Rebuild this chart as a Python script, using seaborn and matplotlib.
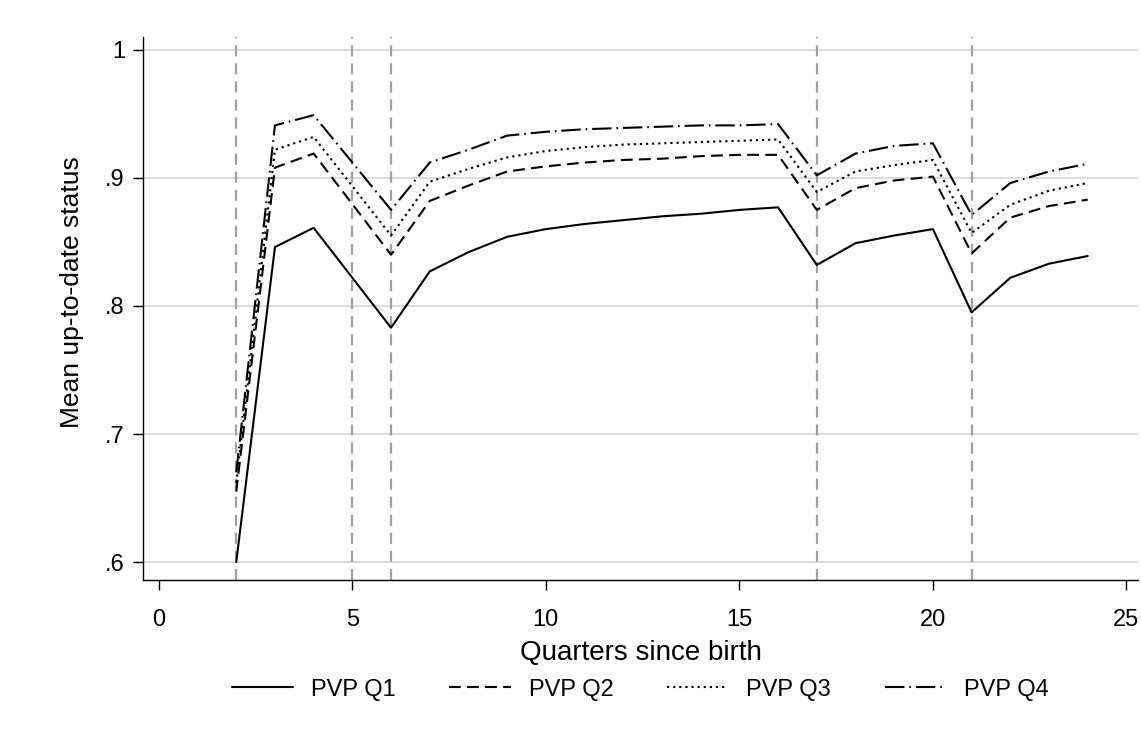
import matplotlib
matplotlib.use("Agg")
import matplotlib.pyplot as plt
import seaborn as sns
import pandas as pd
from matplotlib.lines import Line2D

quarters = [2, 3, 4, 6, 7, 8, 9, 10, 11, 12, 13, 14, 15, 16, 17, 18, 19, 20, 21, 22, 23, 24]
q1 = [0.600, 0.846, 0.861, 0.783, 0.827, 0.842, 0.854, 0.860, 0.864, 0.867, 0.870, 0.872,
      0.875, 0.877, 0.832, 0.849, 0.855, 0.860, 0.795, 0.822, 0.833, 0.839]
q2 = [0.655, 0.908, 0.919, 0.840, 0.882, 0.894, 0.905, 0.909, 0.912, 0.914, 0.915, 0.917,
      0.918, 0.918, 0.875, 0.892, 0.898, 0.901, 0.841, 0.869, 0.878, 0.883]
q3 = [0.662, 0.922, 0.932, 0.855, 0.897, 0.907, 0.916, 0.921, 0.924, 0.926, 0.927, 0.928,
      0.929, 0.930, 0.889, 0.905, 0.910, 0.914, 0.857, 0.879, 0.890, 0.896]
q4 = [0.670, 0.941, 0.949, 0.875, 0.912, 0.922, 0.933, 0.936, 0.938, 0.939, 0.940, 0.941,
      0.941, 0.942, 0.902, 0.919, 0.925, 0.927, 0.871, 0.896, 0.905, 0.911]
series_names = ["PVP Q1", "PVP Q2", "PVP Q3", "PVP Q4"]
vlines_x = [2, 5, 6, 17, 21]
xticks = [0, 5, 10, 15, 20, 25]
yticks = [0.6, 0.7, 0.8, 0.9, 1.0]
ytick_labels = [".6", ".7", ".8", ".9", "1"]

sns.set_style("white")
plt.rcParams["font.family"] = ["Liberation Sans", "DejaVu Sans"]
plt.rcParams["lines.scale_dashes"] = False
plt.rcParams["text.color"] = "black"
plt.rcParams["axes.labelcolor"] = "black"

rows = []
for name, vals in zip(series_names, [q1, q2, q3, q4]):
    for q, v in zip(quarters, vals):
        rows.append({"quarter": q, "value": v, "group": name})
df = pd.DataFrame(rows)

dash_map = {
    "PVP Q1": "",
    "PVP Q2": (8.5, 4.5),
    "PVP Q3": (1.6, 2.8),
    "PVP Q4": (14, 3.5, 1.2, 3.5),
}

fig = plt.figure(figsize=(11.41, 7.33), dpi=100)
ax = fig.add_axes([0.1253, 0.2087, 0.8721, 0.7408])

for xv in vlines_x:
    ax.axvline(xv, color="#a0a0a0", lw=1.6, linestyle=(0, (8, 5)), zorder=1)

sns.lineplot(data=df, x="quarter", y="value", style="group", dashes=dash_map,
             color="black", linewidth=1.5, ax=ax, legend=False, zorder=3,
             estimator=None)

ax.set_xlim(-0.41, 25.3)
ax.set_ylim(0.586, 1.01)
ax.set_xticks(xticks)
ax.set_xticklabels([str(t) for t in xticks])
ax.set_yticks(yticks)
ax.set_yticklabels(ytick_labels)
ax.yaxis.grid(True, color="#d4d4d4", lw=1.2, zorder=0)
ax.xaxis.grid(False)
ax.set_axisbelow(True)
for s in ["top", "right"]:
    ax.spines[s].set_visible(False)
for s in ["left", "bottom"]:
    ax.spines[s].set_color("black")
    ax.spines[s].set_linewidth(1.0)
ax.tick_params(axis="both", which="major", direction="out", length=7, width=1.0,
               color="black", labelsize=17, labelcolor="black", left=True, bottom=True)
ax.tick_params(axis="x", pad=14)
ax.tick_params(axis="y", pad=6)
ax.set_xlabel("Quarters since birth", fontsize=20, labelpad=6, color="black")
ax.set_ylabel("Mean up-to-date status", fontsize=19, color="black")
ax.yaxis.set_label_coords(-0.0593, 0.530)

handles = [Line2D([0], [0], color="black", lw=1.5,
                  linestyle=("-" if dash_map[n] == "" else (0, dash_map[n])))
           for n in series_names]
fig.legend(handles, series_names, loc="center", bbox_to_anchor=(0.561, 0.059), ncol=4,
           frameon=False, fontsize=17, handlelength=2.6, columnspacing=2.27,
           handletextpad=0.76)

fig.savefig("out.png", dpi=100, facecolor="white")
